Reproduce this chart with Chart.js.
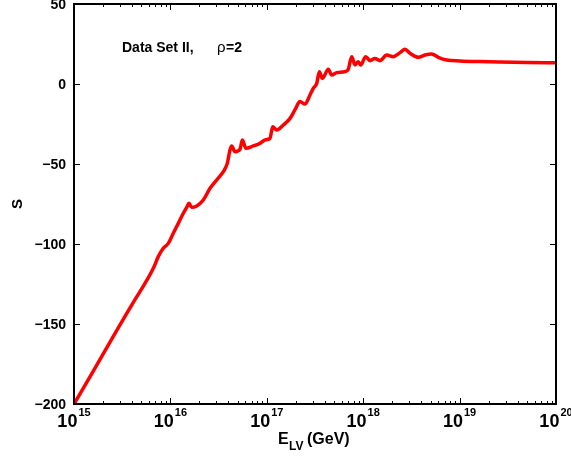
<!DOCTYPE html>
<html>
<head>
<meta charset="utf-8">
<script src="https://cdn.jsdelivr.net/npm/chart.js@4.4.0/dist/chart.umd.min.js"></script>
<style>
  html, body { margin: 0; padding: 0; background: #fff; }
</style>
</head>
<body>
<canvas id="c" width="571" height="459"></canvas>
<script>
// ---- data (log10 of E_LV in GeV, and S) ----
const logE = [15.000, 15.200, 15.400, 15.600, 15.823, 15.874, 15.926, 15.978, 16.030, 16.082,
  16.134, 16.169, 16.193, 16.221, 16.273, 16.341, 16.411, 16.480, 16.549, 16.590,
  16.618, 16.636, 16.670, 16.722, 16.746, 16.784, 16.860, 16.929, 16.981, 17.033,
  17.061, 17.103, 17.171, 17.241, 17.293, 17.344, 17.396, 17.448, 17.482, 17.518,
  17.545, 17.576, 17.638, 17.673, 17.725, 17.811, 17.845, 17.881, 17.915, 17.949,
  17.974, 18.026, 18.071, 18.122, 18.174, 18.244, 18.312, 18.382, 18.434, 18.486,
  18.572, 18.641, 18.711, 18.779, 18.866, 19.004, 19.212, 19.419, 19.699, 20.000];
const sVals = [-200, -179.5, -158.5, -138, -115.2, -107.9, -102.7, -99.6, -93.3, -87.1,
  -80.8, -77.1, -74.6, -77.1, -76.2, -72.5, -65.2, -60, -54.8, -49.6,
  -41.2, -38.7, -42.3, -40.8, -35, -40.2, -38.7, -37.1, -35, -34,
  -26.7, -28.7, -25.6, -21.5, -16, -11, -12.5, -6.9, -2.7, 0.4,
  7.7, 3.5, 9.2, 5.6, 7.1, 7.7, 9.2, 17.1, 11.9, 13.9,
  11.9, 17.1, 14.6, 16, 14.6, 18.1, 17.1, 19.6, 21.7, 19.2,
  16.7, 18.1, 18.75, 16.7, 15, 14.4, 14, 13.75, 13.5, 13.3];

const xTickExp = [15, 16, 17, 18, 19, 20];
const yTickVals = [-200, -150, -100, -50, 0, 50];
const minorMult = [2, 3, 4, 5, 6, 7, 8, 9];

const FONT = '"Liberation Sans", Arial, Helvetica, sans-serif';

// frame, inward ticks, labels and titles (MATLAB look)
const matlabAxes = {
  id: 'matlabAxes',
  afterDraw(chart) {
    const ctx = chart.ctx;
    const a = chart.chartArea;
    const xs = chart.scales.x, ys = chart.scales.y;
    ctx.save();
    ctx.strokeStyle = '#000';
    ctx.fillStyle = '#000';

    // box
    ctx.lineWidth = 2;
    ctx.strokeRect(a.left, a.top, a.right - a.left, a.bottom - a.top);

    // ticks
    ctx.lineWidth = 1;
    ctx.beginPath();
    yTickVals.forEach(v => {
      const y = Math.round(ys.getPixelForValue(v)) + 0.5;
      ctx.moveTo(a.left, y); ctx.lineTo(a.left + 6, y);
      ctx.moveTo(a.right, y); ctx.lineTo(a.right - 6, y);
    });
    xTickExp.forEach((e, i) => {
      const x = Math.round(xs.getPixelForValue(Math.pow(10, e))) + 0.5;
      ctx.moveTo(x, a.bottom); ctx.lineTo(x, a.bottom - 6);
      ctx.moveTo(x, a.top); ctx.lineTo(x, a.top + 6);
      if (i < xTickExp.length - 1) {
        minorMult.forEach(m => {
          const xm = Math.round(xs.getPixelForValue(m * Math.pow(10, e))) + 0.5;
          ctx.moveTo(xm, a.bottom); ctx.lineTo(xm, a.bottom - 3);
          ctx.moveTo(xm, a.top); ctx.lineTo(xm, a.top + 3);
        });
      }
    });
    ctx.stroke();

    // y tick labels
    ctx.font = 'bold 14px ' + FONT;
    ctx.textAlign = 'right';
    ctx.textBaseline = 'middle';
    yTickVals.forEach(v => {
      const txt = v < 0 ? '\u2212' + Math.abs(v) : String(v);
      ctx.fillText(txt, a.left - 8, ys.getPixelForValue(v) + 1);
    });

    // x tick labels: 10^n
    ctx.textAlign = 'left';
    ctx.textBaseline = 'alphabetic';
    xTickExp.forEach(e => {
      const x = xs.getPixelForValue(Math.pow(10, e));
      ctx.font = 'bold 18px ' + FONT;
      const wb = ctx.measureText('10').width;
      ctx.font = 'bold 11px ' + FONT;
      const we = ctx.measureText(String(e)).width;
      const x0 = x - (wb + we + 1) / 2;
      ctx.font = 'bold 18px ' + FONT;
      ctx.fillText('10', x0, 427);
      ctx.font = 'bold 11px ' + FONT;
      ctx.fillText(String(e), x0 + wb + 1, 416);
    });

    // x axis title: E_LV (GeV)
    ctx.font = 'bold 16px ' + FONT;
    ctx.fillText('E', 278, 444);
    ctx.font = 'bold 12px ' + FONT;
    ctx.fillText('LV', 289, 450);
    ctx.font = 'bold 16px ' + FONT;
    ctx.fillText('(GeV)', 307, 444);

    // y axis title
    ctx.save();
    ctx.translate(22, 204);
    ctx.rotate(-Math.PI / 2);
    ctx.textAlign = 'center';
    ctx.font = 'bold 15px ' + FONT;
    ctx.fillText('S', 0, 0);
    ctx.restore();

    // annotation
    ctx.font = 'bold 14px ' + FONT;
    ctx.fillText('Data Set II,', 122, 52);
    ctx.font = '15px ' + FONT;
    ctx.fillText('\u03c1', 217, 52);
    ctx.font = 'bold 14px ' + FONT;
    ctx.fillText('=2', 226, 52);

    ctx.restore();
  }
};

new Chart(document.getElementById('c').getContext('2d'), {
  type: 'line',
  data: {
    datasets: [{
      data: logE.map((e, i) => ({ x: Math.pow(10, e), y: sVals[i] })),
      borderColor: '#ff0000',
      borderWidth: 3.5,
      borderJoinStyle: 'round',
      borderCapStyle: 'round',
      pointRadius: 0,
      cubicInterpolationMode: 'monotone',
      fill: false
    }]
  },
  options: {
    responsive: false,
    devicePixelRatio: 1,
    animation: false,
    layout: { padding: { top: 4, right: 15, left: 0, bottom: 0 } },
    plugins: { legend: { display: false }, tooltip: { enabled: false } },
    scales: {
      x: {
        type: 'logarithmic',
        min: 1e15, max: 1e20,
        grid: { display: false },
        border: { display: false },
        ticks: { display: false },
        afterFit(s) { s.height = 55; }
      },
      y: {
        min: -200, max: 50,
        grid: { display: false },
        border: { display: false },
        ticks: { display: false, stepSize: 50 },
        afterFit(s) { s.width = 74; }
      }
    }
  },
  plugins: [matlabAxes]
});
</script>
</body>
</html>
